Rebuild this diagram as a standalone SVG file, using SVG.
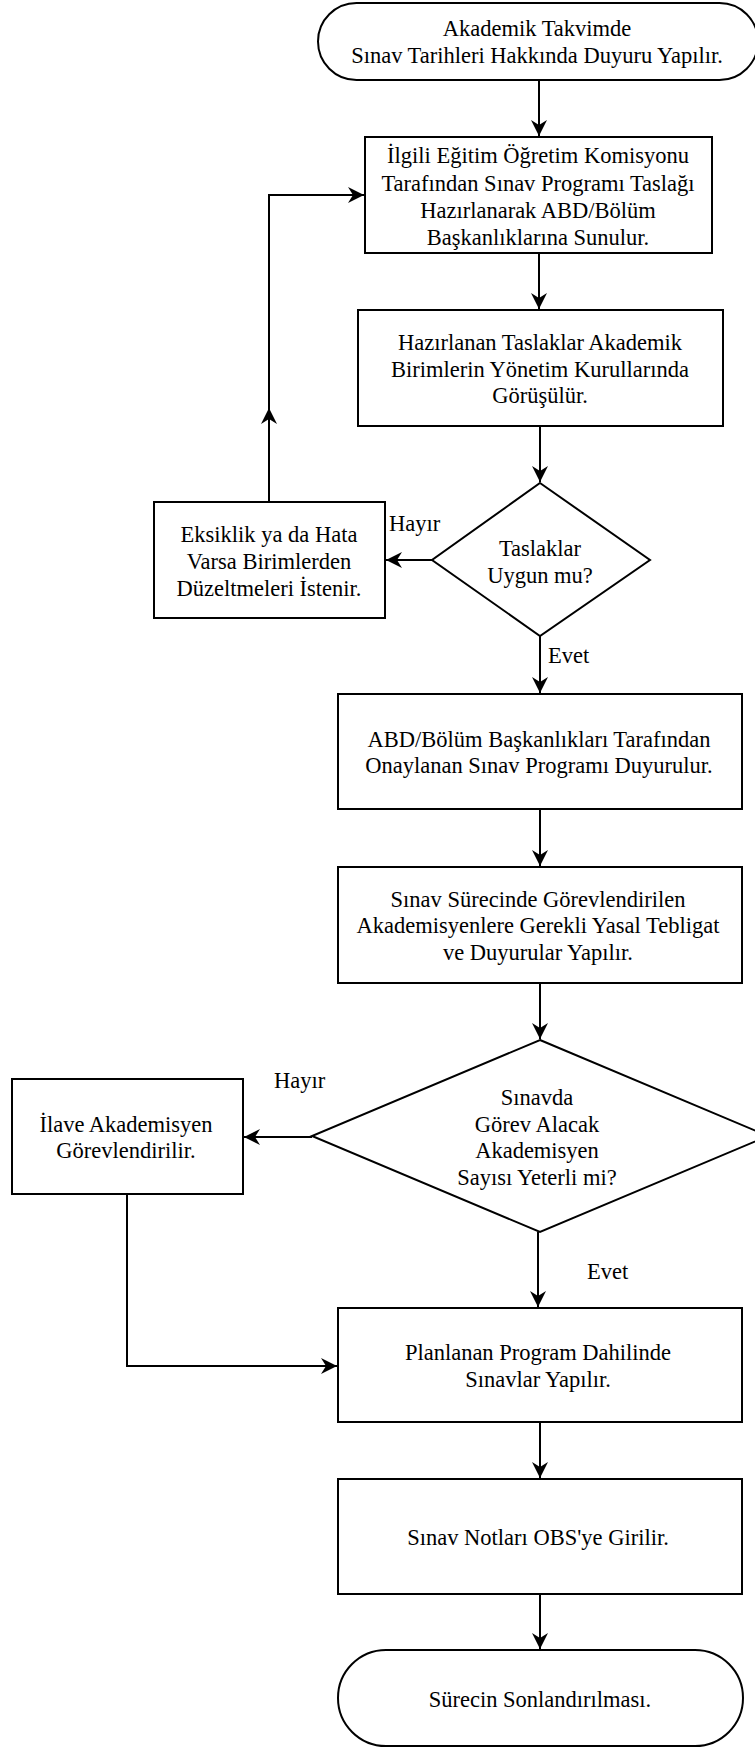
<svg xmlns="http://www.w3.org/2000/svg" width="755" height="1747" viewBox="0 0 755 1747">
<style>
.n{fill:#fff;stroke:#000;stroke-width:2}
.t{font-family:"Liberation Serif","Times New Roman",serif;font-size:22.5px;fill:#000;text-anchor:middle}
.l{font-family:"Liberation Serif","Times New Roman",serif;font-size:22.5px;fill:#000}
.c{fill:none;stroke:#000;stroke-width:2}
</style>
<defs>
<marker id="ah" markerUnits="userSpaceOnUse" markerWidth="20" markerHeight="20" viewBox="-18 -10 20 20" refX="0" refY="0" orient="auto">
<path d="M0,0 L-16,-8 L-11,0 L-16,8 Z" fill="#000"/>
</marker>
</defs>
<rect width="755" height="1747" fill="#fff"/>
<g id="connectors">
<line class="c" x1="539" y1="80" x2="539" y2="136" marker-end="url(#ah)"/>
<line class="c" x1="539" y1="253" x2="539" y2="309" marker-end="url(#ah)"/>
<line class="c" x1="540" y1="426" x2="540" y2="482" marker-end="url(#ah)"/>
<line class="c" x1="432" y1="560" x2="386" y2="560" marker-end="url(#ah)"/>
<line class="c" x1="269" y1="502" x2="269" y2="408" marker-end="url(#ah)"/>
<polyline class="c" points="269,409 269,195 364,195" marker-end="url(#ah)"/>
<line class="c" x1="540" y1="636" x2="540" y2="693" marker-end="url(#ah)"/>
<line class="c" x1="540" y1="809" x2="540" y2="866" marker-end="url(#ah)"/>
<line class="c" x1="540" y1="983" x2="540" y2="1039" marker-end="url(#ah)"/>
<line class="c" x1="312" y1="1137" x2="244" y2="1137" marker-end="url(#ah)"/>
<polyline class="c" points="127,1194 127,1366 337,1366" marker-end="url(#ah)"/>
<line class="c" x1="538" y1="1232" x2="538" y2="1307" marker-end="url(#ah)"/>
<line class="c" x1="540" y1="1422" x2="540" y2="1478" marker-end="url(#ah)"/>
<line class="c" x1="540" y1="1594" x2="540" y2="1649" marker-end="url(#ah)"/>
<text class="l" x="389" y="531">Hayır</text>
<text class="l" x="548" y="663">Evet</text>
<text class="l" x="274" y="1088">Hayır</text>
<text class="l" x="587" y="1279">Evet</text>
</g>
<g id="start">
<rect class="n" x="318" y="3" width="440" height="77" rx="38.5" ry="38.5"/>
<text class="t" x="537" y="36">Akademik Takvimde</text>
<text class="t" x="537" y="63">Sınav Tarihleri Hakkında Duyuru Yapılır.</text>
</g>
<g id="taslak-hazirla">
<rect class="n" x="365" y="137" width="347" height="116"/>
<text class="t" x="538" y="163">İlgili Eğitim Öğretim Komisyonu</text>
<text class="t" x="538" y="191">Tarafından Sınav Programı Taslağı</text>
<text class="t" x="538" y="218">Hazırlanarak ABD/Bölüm</text>
<text class="t" x="538" y="245">Başkanlıklarına Sunulur.</text>
</g>
<g id="gorusulur">
<rect class="n" x="358" y="310" width="365" height="116"/>
<text class="t" x="540" y="350">Hazırlanan Taslaklar Akademik</text>
<text class="t" x="540" y="377">Birimlerin Yönetim Kurullarında</text>
<text class="t" x="540" y="403">Görüşülür.</text>
</g>
<g id="karar1">
<polygon class="n" points="540,483 650,560 540,636 432,560"/>
<text class="t" x="540" y="556">Taslaklar</text>
<text class="t" x="540" y="583">Uygun mu?</text>
</g>
<g id="duzeltme">
<rect class="n" x="154" y="502" width="231" height="116"/>
<text class="t" x="269" y="542">Eksiklik ya da Hata</text>
<text class="t" x="269" y="569">Varsa Birimlerden</text>
<text class="t" x="269" y="596">Düzeltmeleri İstenir.</text>
</g>
<g id="onay">
<rect class="n" x="338" y="694" width="404" height="115"/>
<text class="t" x="539" y="747">ABD/Bölüm Başkanlıkları Tarafından</text>
<text class="t" x="539" y="773">Onaylanan Sınav Programı Duyurulur.</text>
</g>
<g id="teblig">
<rect class="n" x="338" y="867" width="404" height="116"/>
<text class="t" x="538" y="907">Sınav Sürecinde Görevlendirilen</text>
<text class="t" x="538" y="933">Akademisyenlere Gerekli Yasal Tebligat</text>
<text class="t" x="538" y="960">ve Duyurular Yapılır.</text>
</g>
<g id="karar2">
<polygon class="n" points="540,1040 768,1136 540,1232 312,1136"/>
<text class="t" x="537" y="1105">Sınavda</text>
<text class="t" x="537" y="1132">Görev Alacak</text>
<text class="t" x="537" y="1158">Akademisyen</text>
<text class="t" x="537" y="1185">Sayısı Yeterli mi?</text>
</g>
<g id="ilave">
<rect class="n" x="12" y="1079" width="231" height="115"/>
<text class="t" x="126" y="1132">İlave Akademisyen</text>
<text class="t" x="126" y="1158">Görevlendirilir.</text>
</g>
<g id="sinav">
<rect class="n" x="338" y="1308" width="404" height="114"/>
<text class="t" x="538" y="1360">Planlanan Program Dahilinde</text>
<text class="t" x="538" y="1387">Sınavlar Yapılır.</text>
</g>
<g id="notlar">
<rect class="n" x="338" y="1479" width="404" height="115"/>
<text class="t" x="538" y="1545">Sınav Notları OBS'ye Girilir.</text>
</g>
<g id="end">
<rect class="n" x="338" y="1650" width="405" height="96" rx="48" ry="48"/>
<text class="t" x="540" y="1707">Sürecin Sonlandırılması.</text>
</g>
</svg>
